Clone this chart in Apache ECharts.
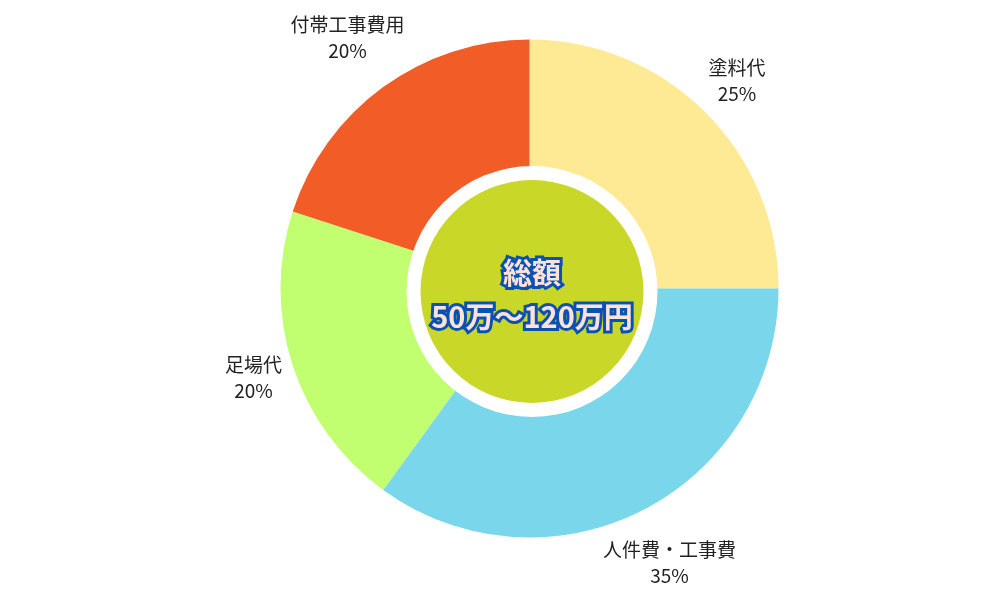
<!DOCTYPE html>
<html><head><meta charset="utf-8">
<script src="https://cdn.jsdelivr.net/npm/echarts@6/dist/echarts.min.js"></script>
<style>html,body{margin:0;padding:0;background:#fff}#c{width:1000px;height:600px}</style>
</head><body><div id="c"></div>
<script>
const categories = ['塗料代', '人件費・工事費', '足場代', '付帯工事費用'];
const shares = [25, 35, 20, 20];
const sliceColors = ['#FEE994', '#7AD7EB', '#C1FF71', '#F25C27'];
const centerLines = ['総額', '50万〜120万円'];

const CX = 529.5, CY = 288.5, R = 249;
const total = shares.reduce((a, b) => a + b, 0);
function midAngle(i) {
  let s = 0;
  for (let k = 0; k < i; k++) s += shares[k];
  return (s + shares[i] / 2) / total * 2 * Math.PI;
}

const chart = echarts.init(document.getElementById('c'), null, { renderer: 'canvas' });
chart.setOption({
  animation: false,
  backgroundColor: '#ffffff',
  series: [
    {
      type: 'pie', center: [CX, CY], radius: [0, R], startAngle: 90, clockwise: true, silent: true,
      data: categories.map((n, i) => ({ name: n, value: shares[i], itemStyle: { color: sliceColors[i] } })),
      itemStyle: { borderWidth: 0 },
      label: {
        show: true, position: 'outside',
        formatter: p => p.name + '\n' + Math.round(p.percent) + '%',
        fontSize: 19, lineHeight: 26, color: '#222', fontFamily: 'Noto Sans CJK JP'
      },
      labelLine: { show: false },
      labelLayout: function (p) {
        const a = midAngle(p.dataIndex);
        const vx = Math.sin(a), vy = -Math.cos(a);
        const d = R + 6 + p.labelRect.width / 2 * Math.abs(vx) + p.labelRect.height / 2 * Math.abs(vy);
        return { x: CX + vx * d, y: CY + vy * d, align: 'center', verticalAlign: 'middle' };
      }
    },
    {
      type: 'pie', center: [532, 291.5], radius: [0, 125.5], silent: true,
      data: [{ name: 'hole', value: 1, itemStyle: { color: '#ffffff' } }],
      itemStyle: { borderWidth: 0 },
      label: { show: false }, labelLine: { show: false }
    },
    {
      type: 'pie', center: [532, 291.5], radius: [0, 111.5], silent: true,
      data: [{ name: centerLines[0], value: 1, itemStyle: { color: '#C9D828' } }],
      itemStyle: { borderWidth: 0 },
      label: {
        show: true, position: 'center', padding: [6, 0, 0, 0],
        formatter: () => centerLines.map(t => '{a|' + t + '}').join('\n'),
        rich: {
          a: {
            fontSize: 29, fontWeight: 'bold', lineHeight: 44,
            color: '#FDE2D8', textBorderColor: '#0B51B4', textBorderWidth: 6,
            fontFamily: 'Noto Sans CJK JP'
          }
        }
      },
      labelLine: { show: false }
    }
  ]
});
</script>
</body></html>
